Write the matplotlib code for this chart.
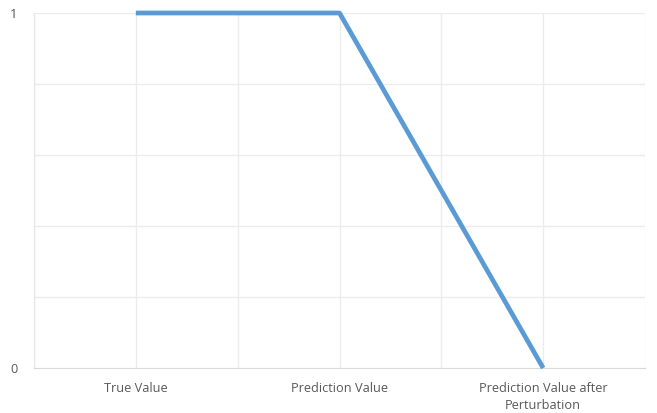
import matplotlib.pyplot as plt
import numpy as np

# categorias y valores
categorias = ['True Value', 'Prediction Value', 'Prediction Value after\nPerturbation']
valores = [1, 1, 0]

plt.rcParams['font.family'] = ['Open Sans', 'DejaVu Sans']

fig = plt.figure(figsize=(6.57, 4.13), dpi=100)
ax = fig.add_axes([34/657, 1 - 368/413, (645-34)/657, (368-13)/413])

x = np.arange(len(categorias))
ax.plot(x, valores, color='#5B9BD5', linewidth=3.4, solid_capstyle='butt',
        clip_on=False, zorder=3)

ax.set_xlim(-0.5, len(categorias) - 0.5)
ax.set_ylim(0, 1)

# grilla
for xv in np.arange(-0.5, len(categorias), 0.5):
    ax.axvline(xv, color='#ececec', linewidth=1, zorder=0)
for yv in np.arange(0.2, 1.01, 0.2):
    ax.axhline(yv, color='#ececec', linewidth=1, zorder=0)

ax.set_xticks(x)
ax.set_xticklabels(categorias, fontsize=9.2, color='#595959', linespacing=1.45)
ax.set_yticks([0, 1])
ax.set_yticklabels(['0', '1'], fontsize=9.2, color='#595959')
ax.tick_params(length=0, pad=10)
ax.tick_params(axis='y', pad=12)

for lado in ['top', 'right']:
    ax.spines[lado].set_visible(False)
ax.spines['left'].set_color('#e6e6e6')
ax.spines['bottom'].set_color('#d9d9d9')

fig.savefig('out.png', dpi=100)
